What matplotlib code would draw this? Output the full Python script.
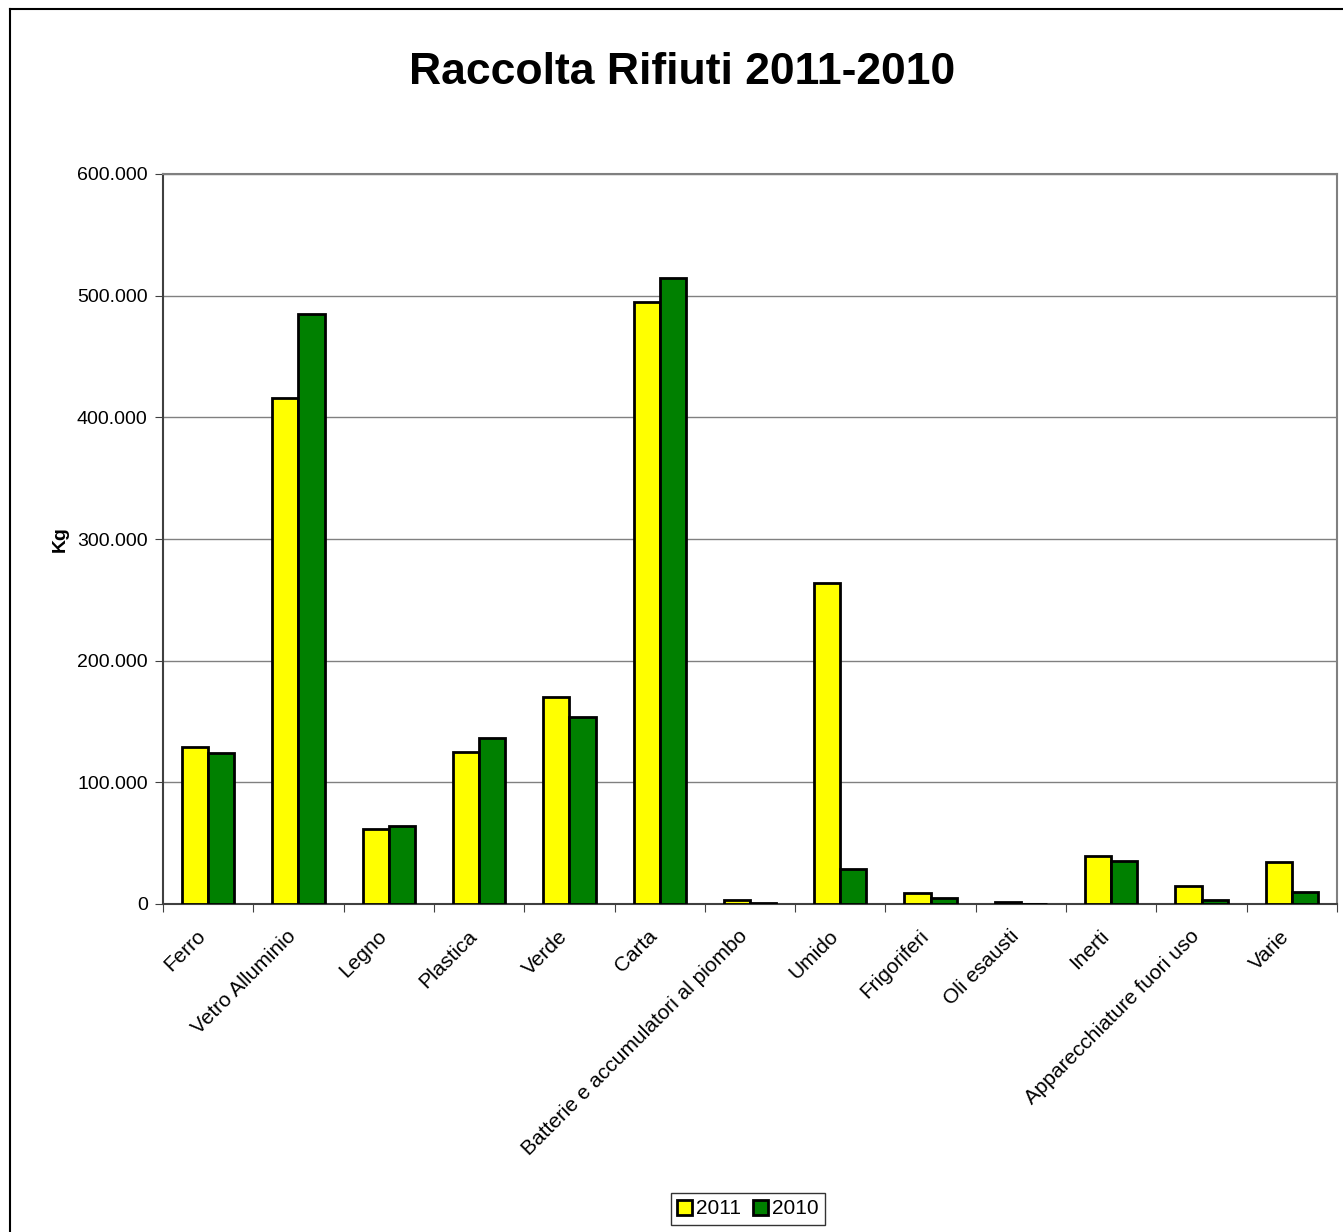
import numpy as np
import matplotlib
matplotlib.use("Agg")
import matplotlib.pyplot as plt
import matplotlib.transforms as mtransforms
from matplotlib.ticker import FuncFormatter, FixedLocator
from matplotlib.lines import Line2D

plt.rcParams['font.family'] = ['Liberation Sans', 'DejaVu Sans']

categorie = ["Ferro", "Vetro Alluminio", "Legno", "Plastica", "Verde", "Carta",
             "Batterie e accumulatori al piombo", "Umido", "Frigoriferi",
             "Oli esausti", "Inerti", "Apparecchiature fuori uso", "Varie"]
kg_2011 = [128700, 415900, 61400, 124900, 170100, 494800, 3000, 263800, 8800, 1400, 39400, 14500, 34800]
kg_2010 = [123800, 484900, 64300, 136400, 153700, 514500, 500, 28800, 5200, 200, 35600, 3300, 9600]

fig = plt.figure(figsize=(13.43, 12.32), dpi=100)
# cornice del grafico (solo lati sinistro e superiore visibili)
fig.lines.append(Line2D([9.5/1343, 9.5/1343], [0, 1 - 9/1232], transform=fig.transFigure,
                        color="black", linewidth=1.5))
fig.lines.append(Line2D([9.5/1343, 1], [1 - 9/1232, 1 - 9/1232], transform=fig.transFigure,
                        color="black", linewidth=1.5))
ax = fig.add_axes([163/1343, 1 - 904/1232, 1174/1343, 730/1232])

x = np.arange(len(categorie))
w = 0.29
ax.bar(x - w/2, kg_2011, width=w, color="#ffff00", edgecolor="black", linewidth=2, label="2011", zorder=3)
ax.bar(x + w/2, kg_2010, width=w, color="#008000", edgecolor="black", linewidth=2, label="2010", zorder=3)

ax.set_xlim(-0.5, len(categorie) - 0.5)
ax.set_ylim(0, 600000)
ax.set_yticks(np.arange(0, 600001, 100000))
ax.yaxis.set_major_formatter(FuncFormatter(lambda v, p: "{:,}".format(int(v)).replace(",", ".")))
ax.yaxis.grid(True, color="#808080", linewidth=1, zorder=0)

# tacche tra le categorie, etichette al centro
ax.xaxis.set_major_locator(FixedLocator(np.arange(-0.5, len(categorie), 1)))
ax.xaxis.set_major_formatter(FuncFormatter(lambda v, p: ""))
ax.xaxis.set_minor_locator(FixedLocator(x))
ax.set_xticklabels(categorie, minor=True, rotation=45, ha="right", va="top",
                   rotation_mode="anchor", fontsize=15)
ax.tick_params(axis="x", which="minor", length=0, pad=12)
ax.tick_params(axis="x", which="major", length=6, color="#404040", direction="out")
ax.tick_params(axis="y", length=6, color="#404040", labelsize=14, pad=5)
offset = mtransforms.ScaledTranslation(-12/100, -6/100, fig.dpi_scale_trans)
for lab in ax.get_xticklabels(minor=True):
    lab.set_transform(lab.get_transform() + offset)

for s in ["top", "right"]:
    ax.spines[s].set_color("#808080")
for s in ["left", "bottom"]:
    ax.spines[s].set_color("#404040")
for s in ax.spines.values():
    s.set_linewidth(1.5)

ax.set_ylabel("Kg", fontsize=14, fontweight="bold", labelpad=6)
fig.text(0.508, 1 - 73/1232, "Raccolta Rifiuti 2011-2010", ha="center", va="center",
         fontsize=32, fontweight="bold")

leg = fig.legend(loc="center", bbox_to_anchor=(748/1343, 1 - 1209/1232), ncol=2, fontsize=15,
                 frameon=True, fancybox=False, edgecolor="black", handlelength=0.7,
                 handleheight=0.7, handletextpad=0.2, columnspacing=0.6, borderpad=0.3,
                 borderaxespad=0)
leg.get_frame().set_linewidth(1)

fig.savefig("out.png", dpi=100)
